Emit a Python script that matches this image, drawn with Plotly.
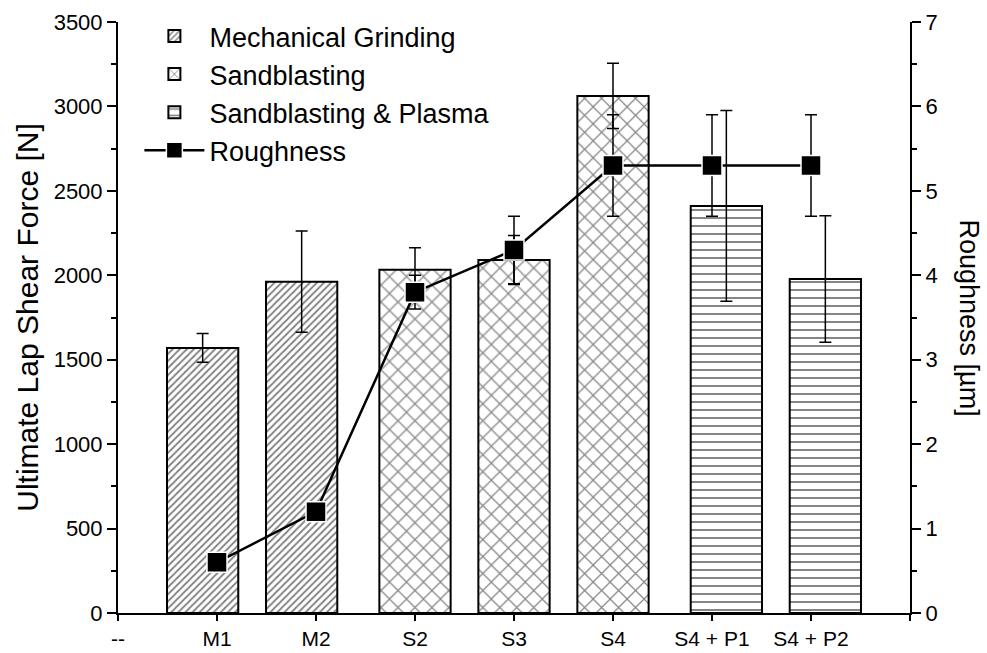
import plotly.graph_objects as go

# ---- data ----
tick_labels = ["--", "M1", "M2", "S2", "S3", "S4", "S4 + P1", "S4 + P2", ""]

mg_pos = [1, 2]
mg_force = [1570, 1962]
mg_err = [85, 300]

sb_pos = [3, 4, 5]
sb_force = [2033, 2090, 3062]
sb_err = [130, 145, 193]

sp_pos = [6, 7]
sp_force = [2411, 1978]
sp_err = [565, 375]

rough_pos = [1, 2, 3, 4, 5, 6, 7]
roughness = [0.6, 1.2, 3.8, 4.3, 5.3, 5.3, 5.3]
rough_err = [0.08, 0.08, 0.2, 0.4, 0.6, 0.6, 0.6]

# ---- style ----
FONT = "Liberation Sans, Arial, sans-serif"
BAR_W = 0.72
SHIFT = 0.145

fig = go.Figure()

def add_bars(name, pos, vals, errs, shape, size, solidity, fg, shift):
    fig.add_trace(go.Bar(
        name=name, x=pos, y=vals,
        width=BAR_W, offset=-BAR_W / 2 + shift,
        marker=dict(color="white",
                    line=dict(color="black", width=2),
                    pattern=dict(shape=shape, size=size, solidity=solidity,
                                 fgcolor=fg, bgcolor="white",
                                 fillmode="overlay")),
        error_y=dict(type="data", array=errs, visible=True,
                     color="black", thickness=1.5, width=6),
        xaxis="x", yaxis="y",
    ))

add_bars("Mechanical Grinding", mg_pos, mg_force, mg_err, "/", 5, 0.35, "#000000", -SHIFT)
add_bars("Sandblasting", sb_pos, sb_force, sb_err, "x", 12, 0.2, "#111111", 0.0)
add_bars("Sandblasting & Plasma", sp_pos, sp_force, sp_err, "-", 8, 0.24, "#000000", SHIFT)

fig.add_trace(go.Scatter(
    name="Roughness", x=rough_pos, y=roughness,
    mode="lines+markers",
    line=dict(color="black", width=2.5),
    marker=dict(symbol="square", size=20, color="black",
                line=dict(color="white", width=1.5)),
    error_y=dict(type="data", array=rough_err, visible=True,
                 color="black", thickness=1.5, width=6),
    xaxis="x", yaxis="y2",
))

axis_common = dict(showline=True, linecolor="black", linewidth=2,
                   ticks="outside", tickcolor="black", tickwidth=2,
                   showgrid=False, zeroline=False)

fig.update_layout(
    width=987, height=653,
    margin=dict(l=118, r=77, t=22, b=40, autoexpand=False),
    paper_bgcolor="white", plot_bgcolor="white",
    barmode="overlay",
    font=dict(family=FONT, color="black"),
    showlegend=True,
    legend=dict(x=0.027, y=1.017, xanchor="left", yanchor="top",
                bgcolor="rgba(0,0,0,0)", borderwidth=0,
                font=dict(family=FONT, size=27, color="black"),
                itemwidth=60, tracegroupgap=0),
    xaxis=dict(range=[0, 8], tickmode="array",
               tickvals=list(range(len(tick_labels))), ticktext=tick_labels,
               ticklen=6,
               tickfont=dict(family=FONT, size=21, color="black"),
               automargin=False, **axis_common),
    yaxis=dict(range=[0, 3500], dtick=500, tick0=0, ticklen=9,
               tickfont=dict(family=FONT, size=22, color="black"),
               minor=dict(dtick=250, ticklen=5, tickwidth=2,
                          tickcolor="black", ticks="outside"),
               title=dict(text="Ultimate Lap Shear Force [N]",
                          font=dict(family=FONT, size=30, color="black"),
                          standoff=6),
               automargin=False, **axis_common),
    yaxis2=dict(range=[0, 7], dtick=1, tick0=0, overlaying="y", side="right",
                ticklen=9,
                tickfont=dict(family=FONT, size=22, color="black"),
                minor=dict(dtick=0.5, ticklen=5, tickwidth=2,
                           tickcolor="black", ticks="outside"),
                automargin=False, **axis_common),
    annotations=[dict(text="Roughness [µm]", textangle=90,
                      xref="paper", yref="paper", x=1.0, y=0.5,
                      xanchor="left", yanchor="middle", xshift=42,
                      showarrow=False,
                      font=dict(family=FONT, size=27, color="black"))],
)

fig.write_html("out.html")
